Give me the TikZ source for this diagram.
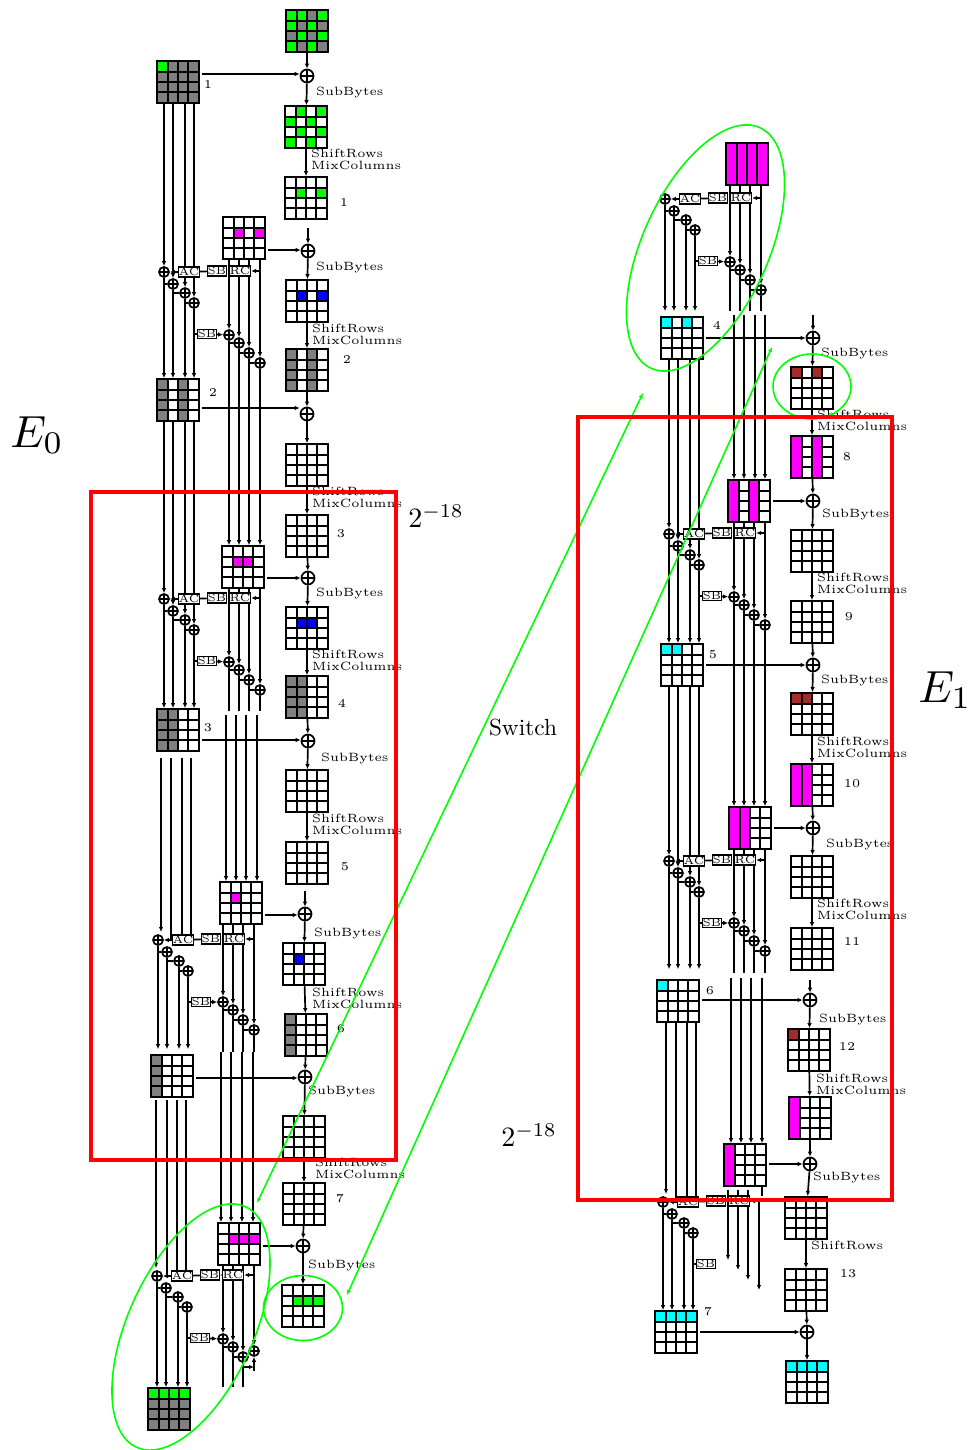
\documentclass[tikz,border=0pt]{standalone}
\usetikzlibrary{arrows.meta,backgrounds,shapes.geometric}
\definecolor{darkbrown}{RGB}{165,42,42}
\definecolor{keymagenta}{RGB}{255,0,255}
\definecolor{keycyan}{RGB}{0,255,255}
\definecolor{keygreen}{RGB}{0,255,0}
\definecolor{keyblue}{RGB}{0,0,255}
\definecolor{keygray}{RGB}{128,128,128}
\newcommand{\lab}[1]{\scalebox{2.4}{\fontsize{5}{6}\selectfont #1}}
\newcommand{\boxlab}[1]{\raisebox{1.5pt}{\scalebox{2.2}{\fontsize{5}{6}\selectfont #1}}}
\tikzset{
  every on background layer/.style={line width=1.7pt},
  gridline/.style={line width=1.7pt},
  statebox/.style={draw,line width=1.7pt,minimum size=42pt,inner sep=0pt},
  xorbig/.style={circle,draw,line width=1.7pt,fill=white,minimum size=13pt,inner sep=0pt,
    path picture={\draw[line width=1.5pt] (path picture bounding box.north) -- (path picture bounding box.south)
      (path picture bounding box.west) -- (path picture bounding box.east);}},
  xorsmall/.style={xorbig,minimum size=10pt},
  opbox/.style={draw,line width=1.5pt,fill=white,minimum width=18pt,minimum height=10pt,inner sep=0pt,font=\fontsize{5}{6}\selectfont},
  oplabel/.style={anchor=west,inner sep=0pt},
  opblock/.style={anchor=west,align=left,inner sep=0pt},
  switchline/.style={draw=keygreen,line width=1.6pt},
  attackbox/.style={draw=red,line width=4pt}
}
% one 4x4 state: name, centre, background, cells col/row/colour, full columns
\newcommand{\state}[6]{%
  \node[statebox,fill=#4] (#1) at (#2,#3) {};
  \begin{scope}[shift={(#2,#3)}]
    \foreach \c/\r/\k in {#5} \fill[\k] ({int(\c*10.5-31.5)},{int(\r*10.5-31.5)}) rectangle ++(10.5,10.5);
    \foreach \j in {-10,0,10} \draw[gridline] (-21,\j) -- (21,\j);
    \foreach \c in {#6} \fill[keymagenta] ({int(\c*10.5-31.5)},-20) rectangle ++(10.5,40);
    \foreach \j in {-10,0,10} \draw[gridline] (\j,-21) -- (\j,21);
    \draw[gridline] (-21,-21) rectangle (21,21);
  \end{scope}}
% left half of a key schedule round
\newcommand{\keyleft}[3]{%
  \begin{scope}[shift={(#2,#3)}]
    \foreach \n/\dx/\dy in {1/0/0,2/9/12,3/21/21,4/30/31} \node[xorsmall] (#1x\n) at (\dx,\dy) {};
    \node[opbox] (#1ac) at (25,0) {\boxlab{AC}};
    \node[opbox,minimum width=17pt] (#1sb) at (53,-1) {\boxlab{SB}};
    \node[opbox] (#1rc) at (76,-1) {\boxlab{RC}};
    \node[opbox,minimum width=16pt,minimum height=9pt] (#1sd) at (43,62) {\boxlab{SB}};
  \end{scope}
  \begin{scope}[on background layer]
    \draw[->] (#1rc) -- (#1sb);
    \draw (#1sb) -- (#1ac);
    \draw[->] (#1ac) -- (#1x1);
    \draw (#1x4 |- #1sd) -- (#1sd);
    \foreach \a/\b in {1/2,2/3,3/4} \draw (#1x\a |- #1x\b) -- (#1x\b);
  \end{scope}}
% right half of a key schedule round
\newcommand{\keyright}[4]{%
  \begin{scope}[shift={(#2,#3)}]
    \foreach \n/\dx/\dy in {1/0/0,2/10/8,3/20/18,4/31/#4} \node[xorsmall] (#1y\n) at (\dx,\dy) {};
  \end{scope}
  \begin{scope}[on background layer]
    \draw[->] (#1y4 |- #1rc) -- (#1rc);
    \draw[->] (#1sd) -- (#1y1);
    \foreach \a/\b in {1/2,2/3} \draw (#1y\a |- #1y\b) -- (#1y\b);
  \end{scope}}
\begin{document}
\begin{tikzpicture}[x=1pt,y=-1pt,>={Latex[length=5pt,width=4.5pt]}]
  \useasboundingbox (0,0) rectangle (971,1450);
  % E0 data path
  \state{p0}{307}{31}{keygray}{1/1/keygreen,2/1/keygreen,4/1/keygreen,1/2/keygreen,3/2/keygreen,2/3/keygreen,4/3/keygreen,1/4/keygreen,3/4/keygreen}{}
  \state{s1}{306}{127}{white}{2/1/keygreen,4/1/keygreen,1/2/keygreen,3/2/keygreen,2/3/keygreen,4/3/keygreen,1/4/keygreen,3/4/keygreen}{}
  \state{s2}{306}{198}{white}{2/2/keygreen,4/2/keygreen}{}
  \state{s3}{307}{301}{white}{2/2/keyblue,4/2/keyblue}{}
  \state{s4}{307}{370}{white}{1/1/keygray,1/2/keygray,1/3/keygray,1/4/keygray,3/1/keygray,3/2/keygray,3/3/keygray,3/4/keygray}{}
  \state{s5}{307}{465}{white}{}{}
  \state{s6}{307}{536}{white}{}{}
  \state{s7}{307}{628}{white}{2/2/keyblue,3/2/keyblue}{}
  \state{s8}{307}{697}{white}{1/1/keygray,1/2/keygray,1/3/keygray,1/4/keygray,2/1/keygray,2/2/keygray,2/3/keygray,2/4/keygray}{}
  \state{s9}{307}{791}{white}{}{}
  \state{s10}{307}{863}{white}{}{}
  \state{s11}{304}{964}{white}{2/2/keyblue}{}
  \state{s12}{306}{1035}{white}{1/1/keygray,1/2/keygray,1/3/keygray,1/4/keygray}{}
  \state{s13}{304}{1137}{white}{}{}
  \state{s14}{304}{1204}{white}{}{}
  \state{s15}{303}{1306}{white}{2/2/keygreen,3/2/keygreen,4/2/keygreen}{}
  % E0 key states
  \state{k1}{178}{82}{keygray}{1/1/keygreen}{}
  \state{k2}{178}{400}{white}{1/1/keygray,1/2/keygray,1/3/keygray,1/4/keygray,3/1/keygray,3/2/keygray,3/3/keygray,3/4/keygray}{}
  \state{k3}{178}{730}{white}{1/1/keygray,1/2/keygray,1/3/keygray,1/4/keygray,2/1/keygray,2/2/keygray,2/3/keygray,2/4/keygray}{}
  \state{k4}{172}{1076}{white}{1/1/keygray,1/2/keygray,1/3/keygray,1/4/keygray}{}
  \state{k5}{169}{1409}{keygray}{1/1/keygreen,2/1/keygreen,3/1/keygreen,4/1/keygreen}{}
  \state{m1}{244}{238}{white}{2/2/keymagenta,4/2/keymagenta}{}
  \state{m2}{243}{567}{white}{2/2/keymagenta,3/2/keymagenta}{}
  \state{m3}{241}{903}{white}{2/2/keymagenta}{}
  \state{m4}{239}{1244}{white}{2/2/keymagenta,3/2/keymagenta,4/2/keymagenta}{}
  % E1 data path
  \state{a1}{812}{388}{white}{1/1/darkbrown,3/1/darkbrown}{}
  \state{a2}{812}{457}{white}{}{1,3}
  \state{a3}{812}{551}{white}{}{}
  \state{a4}{812}{622}{white}{}{}
  \state{a5}{812}{714}{white}{1/1/darkbrown,2/1/darkbrown}{}
  \state{a6}{812}{785}{white}{}{1,2}
  \state{a7}{812}{877}{white}{}{}
  \state{a8}{812}{949}{white}{}{}
  \state{a9}{809}{1050}{white}{1/1/darkbrown}{}
  \state{a10}{810}{1118}{white}{}{1}
  \state{a11}{806}{1218}{white}{}{}
  \state{a12}{806}{1290}{white}{}{}
  \state{a13}{807}{1382}{white}{1/1/keycyan,2/1/keycyan,3/1/keycyan,4/1/keycyan}{}
  % E1 key states
  \state{k6}{682}{338}{white}{1/1/keycyan,3/1/keycyan}{}
  \state{k7}{682}{665}{white}{1/1/keycyan,2/1/keycyan}{}
  \state{k8}{678}{1001}{white}{1/1/keycyan}{}
  \state{k9}{676}{1332}{white}{1/1/keycyan,2/1/keycyan,3/1/keycyan,4/1/keycyan}{}
  \state{m5}{747}{164}{white}{}{1,2,3,4}
  \state{m6}{749}{501}{white}{}{1,3}
  \state{m7}{750}{828}{white}{}{1,2}
  \state{m8}{745}{1165}{white}{}{1}
  % key schedule rounds
  \keyleft{a}{164}{272} \keyright{a}{229}{335}{28}
  \keyleft{b}{164}{599} \keyright{b}{229}{662}{28}
  \keyleft{c}{158}{940} \keyright{c}{223}{1002}{28}
  \keyleft{d}{157}{1276} \keyright{d}{223}{1339}{12}
  \keyleft{e}{665}{199} \keyright{e}{730}{262}{28}
  \keyleft{f}{669}{534} \keyright{f}{734}{597}{28}
  \keyleft{g}{669}{861} \keyright{g}{734}{923}{28}
  \keyleft{h}{663}{1202}
  % big xors
  \foreach \n/\x/\y in {xa/307/76,xb/308/251,xc/307/414,xd/308/578,xe/308/741,xf/305/914,xg/305/1077,xh/303/1246,
    ya/813/338,yb/813/501,yc/813/665,yd/813/828,ye/810/1000,yf/810/1164,yg/807/1332}
    \node[xorbig] (\n) at (\x,\y) {};
  % free ends
  \foreach \n/\x/\y in {ta/308/228,tb/305/891,tc/813/315,td/810/980}
    \coordinate (\n) at (\x,\y);
  \begin{scope}[on background layer]
    \foreach \a/\b in {p0/xa,xa/s1,s1/s2,ta/xb,xb/s3,s3/s4,s4/xc,xc/s5,s5/s6,s6/xd,xd/s7,s7/s8,s8/xe,xe/s9,s9/s10,tb/xf,xf/s11,s11/s12,s12/xg,xg/s13,s13/s14,s14/xh,xh/s15,
      tc/ya,ya/a1,a1/a2,a2/yb,yb/a3,a3/a4,a4/yc,yc/a5,a5/a6,a6/yd,yd/a7,a7/a8,td/ye,ye/a9,a9/a10,a10/yf,yf/a11,a11/a12,a12/yg,yg/a13}
      \draw[->] (\a) -- (\b);
    \foreach \a/\b/\y in {k1/xa/74,m1/xb/250,k2/xc/408,m2/xd/578,k3/xe/740,m3/xf/915,k4/xg/1078,m4/xh/1246,
      k6/ya/338,m6/yb/501,k7/yc/665,m7/yd/828,k8/ye/1000,m8/yf/1164,k9/yg/1332}
      \draw[->,shorten <=2pt] (\a.east |- 0,\y) -- (\b.west |- 0,\y);
    \foreach \p in {a,b,c,e,f,g} \draw (\p y3 |- \p y4) -- (\p y4);
    % rails that run straight through
    \foreach \i in {1,2,3,4} {
      \draw[->] (ax\i |- k1.south) -- (ax\i);
      \draw[->] (ax\i) -- (ax\i |- k2.north);
      \draw[->] (bx\i |- k2.south) -- (bx\i);
      \draw[->] (bx\i) -- (bx\i |- k3.north);
      \draw[->,shorten >=5pt] (cx\i) -- (cx\i |- k4.north);
      \draw[->] (dx\i) -- (dx\i |- k5.north);
      \draw[->,shorten >=5pt] (ex\i) -- (ex\i |- k6.north);
      \draw[->] (fx\i |- k6.south) -- (fx\i);
      \draw[->] (fx\i) -- (fx\i |- k7.north);
      \draw[->] (gx\i |- k7.south) -- (gx\i);
      \draw[->,shorten >=10pt] (gx\i) -- (gx\i |- k8.north);
      \draw[->] (hx\i) -- (hx\i |- k9.north);
      \draw[->] (ay\i |- m1.south) -- (ay\i);
      \draw[->] (ay\i) -- (ay\i |- m2.north);
      \draw[->] (by\i |- m2.south) -- (by\i);
      \draw (by\i) -- (by\i |- 0,711);
      \draw[->] (cy\i |- m3.south) -- (cy\i);
      \draw (cy\i) -- (cy\i |- 0,1052);
      \draw[->] (dy\i |- m4.south) -- (dy\i);
      \draw[->] (ey\i |- m5.south) -- (ey\i);
      \draw (ey\i) -- (ey\i |- 0,311);
      \draw[->] (fy\i |- m6.south) -- (fy\i);
      \draw[->] (fy\i) -- (fy\i |- m7.north);
      \draw[->] (gy\i |- m7.south) -- (gy\i);
      \draw (gy\i) -- (gy\i |- 0,973);
    }
    % rails with a gap after the state or round above
    \foreach \n/\x/\y/\s in {ra/226/715/m3,rb/236/715/m3,rc/246/715/m3,rd/257/715/m3,
      re/221/1052/m4,rf/231/1052/m4,rg/242/1052/m4,rh/253/1052/m4,
      ri/734/315/m6,rj/744/315/m6,rk/755/315/m6,rl/765/315/m6,
      rm/731/978/m8,rn/741/978/m8,ro/751/978/m8,rp/762/978/m8} {
      \coordinate (\n) at (\x,\y);
      \draw[->] (\n) -- (\n |- \s.north);
    }
    % rails coming into the left half of a round
    \foreach \n/\x/\y/\e in {la/161/758/c,lb/171/758/c,lc/182/758/c,ld/191/758/c,
      le/156/1100/d,lf/167/1100/d,lg/177/1100/d,lh/186/1100/d,
      li/666/1022/h,lj/676/1022/h,lk/687/1022/h,ll/696/1022/h}
      \coordinate (\n) at (\x,\y);
    \draw[->] (la) -- (161,932);
    \foreach \n in {lb,lc,ld} \draw (\n) -- (\n |- cac);
    \draw[->] (le) -- (156,1268);
    \foreach \n in {lf,lg,lh} \draw (\n) -- (\n |- dac);
    \draw[->] (li) -- (666,1194);
    \foreach \n in {lj,lk,ll} \draw (\n) -- (\n |- hac);
    % last round of E0
    \coordinate (da) at (254,1371);
    \coordinate (db) at (243,1367);
    \draw[->] (dy4 |- da) -- (dy4);
    \draw[->] (dy3) -- (db) -- (dy4 |- db);
    \draw (dy1) -- (dy1 |- 0,1387);
    \draw (dy2) -- (dy2 |- 0,1387);
    \draw (db) -- (dy3 |- 0,1387);
    % last round of E1
    \foreach \n/\x/\ya/\yb in {va/728/1190/1260,vb/738/1190/1270,vc/748/1190/1280,vd/759/1200/1290} {
      \coordinate (\n) at (\x,\ya);
      \draw[->] (\n) -- (\x,\yb);
    }
    \draw[->] (vd |- hrc) -- (hrc);
    \draw (hx4 |- hsd) -- (hsd);
    \coordinate (ve) at (762,1196);
    \draw (ve |- m8.south) -- (ve);
  \end{scope}
  % operation names
  \foreach \i/\x/\y in {1/316/93,2/316/267,3/316/593,4/321/758,5/314/933,6/308/1091,7/308/1265,
    8/821/353,9/822/514,10/821/680,11/826/844,12/819/1019,13/813/1177}
    \node[oplabel] (sb\i) at (\x,\y) {\lab{SubBytes}};
  \foreach \i/\x/\y in {1/311/159,2/312/334,3/312/497,4/312/660,5/312/824,6/312/998,7/315/1168,
    8/817/420,9/817/583,10/817/747,11/817/909,12/816/1084}
    \node[opblock] (sr\i) at (\x,\y) {\lab{ShiftRows}\\[0pt]\lab{MixColumns}};
  \node[oplabel] (sr13) at (811,1245) {\lab{ShiftRows}};
  % round numbers
  \foreach \i/\x/\y/\t in {1/208/85/1,2/344/203/1,3/347/360/2,4/213/393/2,5/341/534/3,6/208/728/3,7/342/703/4,
    8/345/867/5,9/341/1029/6,10/340/1199/7,11/717/325/4,12/847/457/8,13/849/617/9,14/713/655/5,
    15/852/784/10,16/852/941/11,17/710/991/6,18/847/1046/12,19/848/1274/13,20/708/1312/7}
    \node[inner sep=0pt] (nr\i) at (\x,\y) {\lab{\t}};
  % switch
  \node[ellipse,switchline,rotate=65.7,minimum width=264pt,minimum height=126pt] (ovala) at (191,1327) {};
  \node[ellipse,switchline,rotate=65.7,minimum width=264pt,minimum height=126pt] (ovalb) at (705.5,248) {};
  \node[ellipse,switchline,minimum width=79pt,minimum height=65pt] (ovalc) at (303,1308) {};
  \node[ellipse,switchline,minimum width=78pt,minimum height=65pt] (ovald) at (812,386.5) {};
  \coordinate (swa) at (257,1203);
  \coordinate (swb) at (643,393);
  \coordinate (swc) at (347,1295);
  \coordinate (swd) at (772,347);
  \draw[<->,switchline] (swa) -- (swb);
  \draw[<->,switchline] (swc) -- (swd);
  \node[attackbox,minimum width=305pt,minimum height=668pt,inner sep=0pt] (boxa) at (243.5,826) {};
  \node[attackbox,minimum width=314pt,minimum height=783pt,inner sep=0pt] (boxb) at (735,808.5) {};
  % big labels
  \node (ea) at (37,435) {\scalebox{4.5}{$E_0$}};
  \node (eb) at (945,690) {\scalebox{4.5}{$E_1$}};
  \node (pa) at (436,516) {\scalebox{2.8}{$2^{-18}$}};
  \node (pb) at (529,1135) {\scalebox{2.8}{$2^{-18}$}};
  \node (sw) at (523,728) {\scalebox{2.33}{Switch}};
\end{tikzpicture}
\end{document}
